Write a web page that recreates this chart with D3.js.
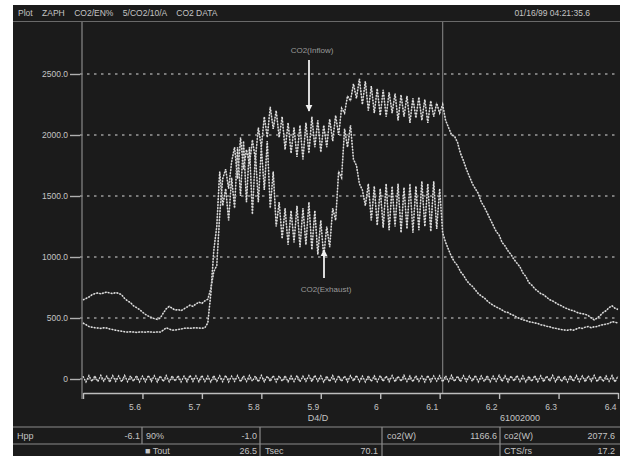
<!DOCTYPE html>
<html>
<head>
<meta charset="utf-8">
<script src="https://cdn.jsdelivr.net/npm/d3@7"></script>
<style>
  html, body { margin: 0; padding: 0; background: #ffffff; }
  svg { display: block; font-family: "Liberation Sans", Arial, sans-serif; }
</style>
</head>
<body>
<svg id="chart" width="629" height="457"></svg>
<script>
// ---- data ----
const xStart = 5.5;
const xStep = 0.005;
const xTicks = [5.5, 5.6, 5.7, 5.8, 5.9, 6.0, 6.1, 6.2, 6.3, 6.4];
const xTickLabels = ["", "5.6", "5.7", "5.8", "5.9", "6", "6.1", "6.2", "6.3", "6.4"];
const yTicks = [0, 500, 1000, 1500, 2000, 2500];
const yTickLabels = ["0", "500.0", "1000.0", "1500.0", "2000.0", "2500.0"];
const cursorX = 6.1;

// CO2 at the inflow
const co2Inflow = [
  648, 660, 672, 690, 700, 705, 698, 706, 712, 705,
  700, 708, 702, 690, 660, 640, 625, 600, 585, 570,
  548, 530, 515, 505, 495, 488, 500, 540, 575, 595,
  580, 565, 570, 560, 575, 590, 605, 595, 615, 630,
  620, 640, 655, 740, 880, 930, 1350, 1640, 1720, 1560,
  1780, 1900, 1640, 1980, 1720, 1880, 1760, 1960, 1800, 2060,
  1900, 2150, 1980, 2230, 2050, 2200, 1980, 2150, 1880, 2100,
  1850, 2060, 1820, 2080, 1800, 2100, 1850, 2150, 1900, 2120,
  1860, 2080, 1900, 2130, 1950, 2160, 2000, 2220, 2180, 2320,
  2280, 2420, 2300, 2460, 2250, 2440, 2200, 2400, 2180, 2380,
  2160, 2370, 2150, 2350, 2180, 2340, 2120, 2330, 2150, 2320,
  2100, 2300, 2140, 2310, 2120, 2290, 2100, 2280, 2150, 2260,
  2180, 2250, 2120, 2060, 2000, 1990, 1940, 1850, 1790, 1720,
  1660, 1600, 1560, 1520, 1450, 1410, 1360, 1310, 1260, 1210,
  1180, 1120, 1090, 1050, 1020, 980, 950, 920, 870, 840,
  790, 770, 740, 720, 700, 690, 670, 650, 640, 625,
  610, 600, 585, 575, 565, 560, 548, 540, 535, 530,
  520, 500, 485, 500, 520, 545, 560, 585, 600, 580,
  570
];

// CO2 at the exhaust
const co2Exhaust = [
  459, 445, 430, 425, 420, 418, 415, 420, 418, 410,
  405, 400, 395, 392, 388, 385, 388, 385, 382, 385,
  386, 384, 388, 385, 383, 386, 385, 400, 420, 410,
  400, 402, 405, 410, 415, 418, 415, 418, 420, 418,
  416, 420, 460, 700, 1050, 1250, 1700, 1420, 1560, 1300,
  1650, 1400, 1900, 1500, 1950, 1450, 1900, 1350, 1850, 1450,
  1900, 1550, 1950, 1400, 1700, 1250, 1450, 1150, 1400, 1100,
  1380, 1120, 1420, 1080, 1400, 1100, 1450, 1060, 1380, 1020,
  1300, 1000, 1250, 1080, 1400, 1300, 1700, 1650, 2050, 1900,
  2080, 1800, 1750, 1600, 1550, 1420, 1600, 1300, 1580, 1260,
  1560, 1240, 1600, 1220, 1580, 1250, 1600, 1200, 1570, 1230,
  1600, 1200, 1580, 1220, 1620, 1250, 1600, 1210, 1620, 1230,
  1560, 1200, 1120, 1060, 1000, 960, 930, 880, 850, 810,
  780, 760, 730, 700, 680, 665, 640, 620, 605, 590,
  580, 565, 550, 545, 530, 520, 505, 495, 485, 480,
  470, 465, 460, 455, 445, 440, 432, 428, 420, 415,
  410, 405, 402, 400, 405, 400, 410, 420, 415, 425,
  430, 420, 428, 430, 440, 445, 450, 455, 470, 465,
  460
];

// baseline channel near zero
const zeroTrace = [
  22, -24, 28, -20, 26, -22, 30, -18, 24, -26,
  28, -20, 25, -24, 30, -22, 26, -19, 28, -24,
  24, -22, 30, -20, 27, -25, 25, -21, 29, -23,
  26, -18, 28, -24, 24, -22, 31, -20, 26, -23,
  29, -21, 25, -25, 28, -19, 27, -22, 30, -24,
  23, -20, 28, -23, 26, -21, 29, -18, 25, -24,
  30, -22, 24, -20, 28, -25, 26, -19, 27, -23,
  25, -21, 29, -24, 23, -20, 28, -22, 30, -19,
  26, -25, 24, -21, 29, -23, 27, -20, 25, -24,
  28, -18, 30, -22, 24, -24, 27, -21, 26, -23,
  29, -20, 25, -22, 28, -24, 23, -19, 30, -21,
  26, -23, 27, -20, 24, -25, 29, -22, 25, -18,
  28, -24, 26, -21, 30, -20, 24, -23, 27, -22,
  25, -19, 29, -24, 26, -21, 28, -23, 24, -20,
  30, -22, 27, -25, 25, -18, 29, -21, 26, -24,
  23, -20, 28, -22, 27, -24, 25, -19, 30, -23,
  26, -21, 24, -25, 29, -20, 28, -22, 25, -24,
  27, -19, 30, -23, 24, -21, 26, -20, 28, -25,
  25
];

const headerLeft = "Plot    ZAPH    CO2/EN%    5/CO2/10/A    CO2 DATA";
const headerRight = "01/16/99 04:21:35.6";
const xAxisTitle = "D4/D";
const xAxisNote = "61002000";
const inflowLabel = "CO2(Inflow)";
const exhaustLabel = "CO2(Exhaust)";

// readout table: [text, x, anchor, row]
const readoutCells = [
  ["Hpp", 17, "start", 0], ["-6.1", 140, "end", 0],
  ["90%", 146, "start", 0], ["-1.0", 257, "end", 0],
  ["co2(W)", 387, "start", 0], ["1166.6", 497, "end", 0],
  ["co2(W)", 504, "start", 0], ["2077.6", 615, "end", 0],
  ["\u25A0 Tout", 145, "start", 1], ["26.5", 257, "end", 1],
  ["Tsec", 265, "start", 1], ["70.1", 378, "end", 1],
  ["CTS/rs", 504, "start", 1], ["17.2", 615, "end", 1]
];

// ---- drawing ----
const svg = d3.select("#chart");
const W = 629, H = 457;
const bg = "#1b1b1b";
const textCol = "#c4c4c4";

svg.append("rect").attr("x", 13).attr("y", 5).attr("width", 607).attr("height", 451)
  .attr("fill", bg);

const x = d3.scaleLinear().domain([5.5, 6.4]).range([83, 618]);
const y = d3.scaleLinear().domain([0, 2500]).range([379, 74]);

// header strip
svg.append("line").attr("x1", 13).attr("x2", 620).attr("y1", 21.5).attr("y2", 21.5)
  .attr("stroke", "#6a6a6a").attr("stroke-width", 1);
svg.append("text").attr("x", 18).attr("y", 16).attr("fill", textCol)
  .attr("font-size", 8.5).attr("xml:space", "preserve").style("white-space", "pre").text(headerLeft);
svg.append("text").attr("x", 590).attr("y", 16).attr("fill", textCol)
  .attr("font-size", 8.5).attr("text-anchor", "end").text(headerRight);

// horizontal dotted gridlines
svg.append("g").selectAll("line").data(yTicks).join("line")
  .attr("x1", 80).attr("x2", 618)
  .attr("y1", d => y(d)).attr("y2", d => y(d))
  .attr("stroke", "#9a9a9a").attr("stroke-width", 1.6)
  .attr("stroke-dasharray", "2.5,4.5");

// left frame line and cursor
svg.append("line").attr("x1", 82).attr("x2", 82).attr("y1", 22).attr("y2", 399)
  .attr("stroke", "#8a8a8a").attr("stroke-width", 1.2);
svg.append("line").attr("x1", x(cursorX) + 3).attr("x2", x(cursorX) + 3).attr("y1", 22).attr("y2", 393)
  .attr("stroke", "#7a7a7a").attr("stroke-width", 1.2);

// y axis
const yAxis = d3.axisLeft(y).tickValues(yTicks)
  .tickFormat((d, i) => yTickLabels[i]).tickSize(10).tickPadding(2).tickSizeOuter(0);
const gy = svg.append("g").attr("transform", "translate(80,0)").call(yAxis);
gy.select(".domain").remove();
gy.selectAll(".tick line").attr("stroke", "#b0b0b0").attr("stroke-width", 1.4);
gy.selectAll(".tick text").attr("fill", textCol).attr("font-size", 8.5)
  .attr("font-family", "Liberation Sans, Arial, sans-serif");

// x axis
const xAxis = d3.axisBottom(x).tickValues(xTicks)
  .tickFormat((d, i) => xTickLabels[i]).tickSize(6).tickPadding(5).tickSizeOuter(0);
const gx = svg.append("g").attr("transform", "translate(0,393)").call(xAxis);
gx.select(".domain").attr("stroke", "#bdbdbd").attr("stroke-width", 1.4);
gx.selectAll(".tick line").attr("stroke", "#bdbdbd").attr("stroke-width", 1.4);
gx.selectAll(".tick text").attr("fill", textCol).attr("font-size", 8.5)
  .attr("text-anchor", "end").attr("dx", -2)
  .attr("font-family", "Liberation Sans, Arial, sans-serif");

svg.append("text").attr("x", 318).attr("y", 421).attr("text-anchor", "middle")
  .attr("fill", textCol).attr("font-size", 9).text(xAxisTitle);
svg.append("text").attr("x", 520).attr("y", 421).attr("text-anchor", "middle")
  .attr("fill", textCol).attr("font-size", 9).text(xAxisNote);

// traces
const line = d3.line()
  .x((d, i) => x(xStart + i * xStep))
  .y(d => y(d));

function trace(data, w) {
  svg.append("path").datum(data).attr("d", line)
    .attr("fill", "none").attr("stroke", "#6e6e6e").attr("stroke-width", w * 0.7);
  svg.append("path").datum(data).attr("d", line)
    .attr("fill", "none").attr("stroke", "#e2e2e2").attr("stroke-width", w)
    .attr("stroke-dasharray", "1.6,1.4");
}
trace(co2Exhaust, 1.5);
trace(co2Inflow, 1.5);
trace(zeroTrace, 1.3);

// annotations
svg.append("defs").append("marker").attr("id", "head")
  .attr("viewBox", "0 0 10 10").attr("refX", 9).attr("refY", 5)
  .attr("markerWidth", 4).attr("markerHeight", 5).attr("orient", "auto")
  .append("path").attr("d", "M0,0 L10,5 L0,10 Z").attr("fill", "#f0f0f0");

svg.append("text").attr("x", 312).attr("y", 53).attr("text-anchor", "middle")
  .attr("fill", "#9a9a9a").attr("font-size", 8).text(inflowLabel);
svg.append("line").attr("x1", 309).attr("x2", 309).attr("y1", 60).attr("y2", 111)
  .attr("stroke", "#f0f0f0").attr("stroke-width", 1.8).attr("marker-end", "url(#head)");

svg.append("text").attr("x", 326).attr("y", 292).attr("text-anchor", "middle")
  .attr("fill", "#9a9a9a").attr("font-size", 8).text(exhaustLabel);
svg.append("line").attr("x1", 324).attr("x2", 324).attr("y1", 278).attr("y2", 250)
  .attr("stroke", "#f0f0f0").attr("stroke-width", 1.8).attr("marker-end", "url(#head)");

// readout table
const rowTop = [427, 444];
svg.append("g").selectAll("line").data([427, 444]).join("line")
  .attr("x1", 13).attr("x2", 620).attr("y1", d => d).attr("y2", d => d)
  .attr("stroke", "#8c8c8c").attr("stroke-width", 1.2);
const seps = [[142, 0], [260, 0], [260, 1], [382, 0], [382, 1], [500, 0], [500, 1]];
svg.append("g").selectAll("line").data(seps).join("line")
  .attr("x1", d => d[0]).attr("x2", d => d[0])
  .attr("y1", d => rowTop[d[1]]).attr("y2", d => d[1] === 0 ? 444 : 456)
  .attr("stroke", "#8c8c8c").attr("stroke-width", 1.2);
svg.append("g").selectAll("text").data(readoutCells).join("text")
  .attr("x", d => d[1]).attr("y", d => d[3] === 0 ? 439 : 454)
  .attr("text-anchor", d => d[2])
  .attr("fill", textCol).attr("font-size", 9)
  .text(d => d[0]);
</script>
</body>
</html>
